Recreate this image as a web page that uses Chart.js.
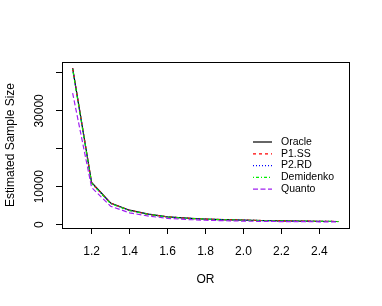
<!DOCTYPE html>
<html>
<head>
<meta charset="utf-8">
<script src="https://cdn.jsdelivr.net/npm/chart.js@4.4.1/dist/chart.umd.min.js"></script>
<style>
  html, body { margin: 0; padding: 0; background: #fff; }
  #wrap { width: 382px; height: 306px; }
</style>
</head>
<body>
<div id="wrap"><canvas id="chart" width="382" height="306"></canvas></div>
<script>
// odds ratios on the x axis
var orValues = [1.1, 1.2, 1.3, 1.4, 1.5, 1.6, 1.7, 1.8, 1.9, 2.0, 2.1, 2.2, 2.3, 2.4, 2.5];

// estimated sample sizes
var oracle    = [41300, 11100, 5700, 3800, 2750, 2050, 1700, 1450, 1300, 1180, 1080, 1000, 930, 870, 820];
var p1ss      = [41200, 11000, 5650, 3750, 2720, 2030, 1690, 1440, 1290, 1170, 1070, 990, 925, 865, 815];
var p2rd      = [41100, 10950, 5600, 3720, 2700, 2020, 1680, 1430, 1280, 1160, 1065, 985, 920, 860, 810];
var demidenko = [41000, 10900, 5550, 3700, 2680, 2000, 1670, 1420, 1270, 1150, 1060, 980, 915, 855, 805];
var quanto    = [34700, 9800, 4850, 3100, 2250, 1650, 1350, 1150, 1020, 920, 850, 800, 770, 740, 720];

var xTicks = [1.2, 1.4, 1.6, 1.8, 2.0, 2.2, 2.4];
var yTicks = [0, 10000, 20000, 30000, 40000];
var yLabelled = [0, 10000, 30000];

var seriesNames = ['Oracle', 'P1.SS', 'P2.RD', 'Demidenko', 'Quanto'];
var seriesData = [oracle, p1ss, p2rd, demidenko, quanto];
var seriesColors = ['#000000', '#FF0000', '#0000FF', '#00EE00', '#A020F0'];
var seriesDash = [[], [3, 3], [1, 2], [1, 2, 3, 2], [5, 2.5]];

var FONT = '"Liberation Sans", Arial, Helvetica, sans-serif';

function toPoints(vals) {
  return vals.map(function(v, i) { return { x: orValues[i], y: v }; });
}

var datasets = seriesNames.map(function(name, i) {
  return {
    label: name,
    data: toPoints(seriesData[i]),
    borderColor: seriesColors[i],
    borderDash: seriesDash[i],
    borderWidth: 1.2,
    pointRadius: 0,
    fill: false,
    tension: 0,
    order: seriesNames.length - i
  };
});

// box, rotated y labels and legend, R style
var rStyle = {
  id: 'rStyle',
  afterDraw: function(chart) {
    var c = chart.ctx, a = chart.chartArea;
    c.save();
    c.strokeStyle = '#000';
    c.lineWidth = 1;
    c.setLineDash([]);
    c.strokeRect(Math.round(a.left) + 0.5, Math.round(a.top) + 0.5,
                 Math.round(a.right - a.left), Math.round(a.bottom - a.top));

    var ys = chart.scales.y;
    c.fillStyle = '#000';
    c.font = '12px ' + FONT;
    c.textAlign = 'center';
    c.textBaseline = 'middle';
    yLabelled.forEach(function(v) {
      var py = ys.getPixelForValue(v);
      c.save();
      c.translate(a.left - 22, py);
      c.rotate(-Math.PI / 2);
      c.fillText(String(v), 0, 0);
      c.restore();
    });

    // legend
    c.font = '10.5px ' + FONT;
    c.textAlign = 'left';
    c.lineWidth = 1.2;
    var lx = a.right - 96, ly = a.top + 80;
    seriesNames.forEach(function(name, i) {
      var y = ly + i * 11.8;
      c.strokeStyle = seriesColors[i];
      c.setLineDash(seriesDash[i]);
      c.beginPath();
      c.moveTo(lx, y);
      c.lineTo(lx + 19, y);
      c.stroke();
      c.fillStyle = '#000';
      c.fillText(name, lx + 28, y);
    });
    c.restore();
  }
};

var chart = new Chart(document.getElementById('chart'), {
  type: 'line',
  data: { datasets: datasets },
  plugins: [rStyle],
  options: {
    responsive: false,
    animation: false,
    layout: { padding: { left: 0, right: 33, top: 62, bottom: 0 } },
    plugins: { legend: { display: false }, tooltip: { enabled: false } },
    scales: {
      x: {
        type: 'linear',
        min: 1.044,
        max: 2.556,
        afterBuildTicks: function(s) { s.ticks = xTicks.map(function(v) { return { value: v }; }); },
        afterFit: function(s) { s.height = 78; },
        border: { display: false },
        grid: { drawOnChartArea: false, tickLength: 6, color: '#000', tickColor: '#000' },
        ticks: {
          color: '#000',
          font: { family: FONT, size: 12 },
          padding: 10,
          maxRotation: 0,
          callback: function(v) { return v.toFixed(1); }
        },
        title: {
          display: true,
          text: 'OR',
          color: '#000',
          font: { family: FONT, size: 12 },
          padding: { top: 0, bottom: 19 }
        }
      },
      y: {
        type: 'linear',
        min: -900,
        max: 42900,
        afterBuildTicks: function(s) { s.ticks = yTicks.map(function(v) { return { value: v }; }); },
        afterFit: function(s) { s.width = 62; },
        border: { display: false },
        grid: { drawOnChartArea: false, tickLength: 6, color: '#000', tickColor: '#000' },
        ticks: { display: false },
        title: {
          display: true,
          text: 'Estimated Sample Size',
          color: '#000',
          font: { family: FONT, size: 12 },
          padding: { top: 3, bottom: 0 }
        }
      }
    }
  }
});
</script>
</body>
</html>
